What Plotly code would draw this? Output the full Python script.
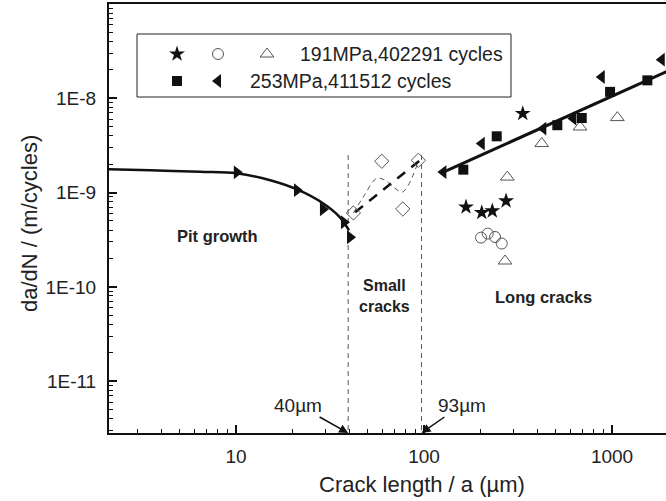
import plotly.graph_objects as go
import math

# ---------------- data ----------------
# Pit growth: fitted curve and markers
pit_curve_x = [2.11, 3.49, 6.43, 10.1, 15.2, 21.1, 29.0, 35.7, 39.9]
pit_curve_y = [1.77e-9, 1.72e-9, 1.66e-9, 1.60e-9, 1.35e-9, 1.08e-9, 7.7e-10, 5.47e-10, 3.98e-10]
pit_pts_x = [10.1, 21.1, 29.0, 37.5, 40.4]
pit_pts_y = [1.64e-9, 1.06e-9, 6.65e-10, 4.84e-10, 3.36e-10]

# Small cracks
small_x = [42.1, 59.6, 77.1, 93.3]
small_y = [6.08e-10, 2.15e-9, 6.70e-10, 2.20e-9]
small_interp_x = [42.1, 47.4, 56.2, 62.0, 70.1, 76.4, 82.3, 93.0]
small_interp_y = [6.08e-10, 8.91e-10, 1.42e-9, 1.35e-9, 1.11e-9, 1.01e-9, 1.19e-9, 2.10e-9]
small_fit_x = [43.0, 95.3]
small_fit_y = [6.18e-10, 2.2e-9]

# Long cracks fit
long_fit_x = [126.7, 2000]
long_fit_y = [1.65e-9, 1.96e-8]

# 191 MPa, 402291 cycles
s191_star_x = [167.2, 202.8, 230.8, 273.1, 335]
s191_star_y = [7.03e-10, 6.14e-10, 6.38e-10, 8.15e-10, 6.89e-9]
s191_circ_x = [201, 218.2, 238.6, 259]
s191_circ_y = [3.33e-10, 3.67e-10, 3.38e-10, 2.88e-10]
s191_tri_x = [277.3, 269.7, 422.7, 675.6, 1067]
s191_tri_y = [1.46e-9, 1.88e-10, 3.31e-9, 4.96e-9, 6.24e-9]

# 253 MPa, 411512 cycles
s253_sq_x = [161.8, 243.6, 511.6, 690, 976, 1541]
s253_sq_y = [1.75e-9, 3.95e-9, 5.18e-9, 6.18e-9, 1.17e-8, 1.55e-8]
s253_tri_x = [126.7, 202.8, 431, 622.5, 881.6, 1838]
s253_tri_y = [1.65e-9, 3.31e-9, 4.77e-9, 6.09e-9, 1.68e-8, 2.57e-8]

# Region boundaries (crack length, um)
boundary_x = [39.5, 97.0]
boundary_labels = ["40\u00b5m", "93\u00b5m"]
boundary_top = 2.5e-9

x_ticks = [10, 100, 1000]
x_ticklabels = ["10", "100", "1000"]
y_ticks = [1e-11, 1e-10, 1e-9, 1e-8]
y_ticklabels = ["1E-11", "1E-10", "1E-9", "1E-8"]

legend_row1 = "191MPa,402291 cycles"
legend_row2 = "253MPa,411512 cycles"
x_title = "Crack length / a (\u00b5m)"
y_title = "da/dN / (m/cycles)"

# ---------------- figure ----------------
FONT = "Liberation Sans, Arial, sans-serif"
BLACK = "#111111"
GRAY = "#555555"
TXT = "#222222"

fig = go.Figure()

# boundaries
for bx in boundary_x:
    fig.add_trace(go.Scatter(x=[bx, bx], y=[boundary_top, 1e-12], mode="lines",
                             line=dict(color=GRAY, width=1, dash="5px,4px"),
                             showlegend=False, hoverinfo="skip"))

# pit growth
fig.add_trace(go.Scatter(x=pit_curve_x, y=pit_curve_y, mode="lines",
                         line=dict(color=BLACK, width=2.5, shape="spline"),
                         showlegend=False))
fig.add_trace(go.Scatter(x=pit_pts_x, y=pit_pts_y, mode="markers",
                         marker=dict(symbol="triangle-right", size=12, color=BLACK),
                         showlegend=False))

# small cracks
fig.add_trace(go.Scatter(x=small_interp_x, y=small_interp_y, mode="lines",
                         line=dict(color=GRAY, width=1, dash="5px,4px", shape="spline"),
                         showlegend=False))
fig.add_trace(go.Scatter(x=small_fit_x, y=small_fit_y, mode="lines",
                         line=dict(color=BLACK, width=2.5, dash="10px,8px"),
                         showlegend=False))
fig.add_trace(go.Scatter(x=small_x, y=small_y, mode="markers",
                         marker=dict(symbol="diamond-open", size=11, color=GRAY,
                                     line=dict(width=1)),
                         showlegend=False))

# long cracks fit
fig.add_trace(go.Scatter(x=long_fit_x, y=long_fit_y, mode="lines",
                         line=dict(color=BLACK, width=3), showlegend=False))

# 191 MPa
fig.add_trace(go.Scatter(x=s191_star_x, y=s191_star_y, mode="markers",
                         marker=dict(symbol="star", size=12, color=BLACK),
                         showlegend=False))
fig.add_trace(go.Scatter(x=s191_circ_x, y=s191_circ_y, mode="markers",
                         marker=dict(symbol="circle-open", size=11, color=GRAY,
                                     line=dict(width=1)),
                         showlegend=False))
fig.add_trace(go.Scatter(x=s191_tri_x, y=s191_tri_y, mode="markers",
                         marker=dict(symbol="triangle-up-open", size=12, color=GRAY,
                                     line=dict(width=1)),
                         showlegend=False))

# 253 MPa
fig.add_trace(go.Scatter(x=s253_sq_x, y=s253_sq_y, mode="markers",
                         marker=dict(symbol="square", size=10, color=BLACK),
                         showlegend=False))
fig.add_trace(go.Scatter(x=s253_tri_x, y=s253_tri_y, mode="markers",
                         marker=dict(symbol="triangle-left", size=12, color=BLACK),
                         showlegend=False))

# legend glyphs on an overlay unit axis
leg_y1, leg_y2 = 0.8834, 0.8205
fig.add_trace(go.Scatter(x=[0.1221], y=[leg_y1], xaxis="x2", yaxis="y2", mode="markers",
                         marker=dict(symbol="star", size=12, color=BLACK), showlegend=False))
fig.add_trace(go.Scatter(x=[0.1957], y=[leg_y1], xaxis="x2", yaxis="y2", mode="markers",
                         marker=dict(symbol="circle-open", size=11, color=GRAY, line=dict(width=1)),
                         showlegend=False))
fig.add_trace(go.Scatter(x=[0.2837], y=[leg_y1], xaxis="x2", yaxis="y2", mode="markers",
                         marker=dict(symbol="triangle-up-open", size=12, color=GRAY, line=dict(width=1)),
                         showlegend=False))
fig.add_trace(go.Scatter(x=[0.1221], y=[leg_y2], xaxis="x2", yaxis="y2", mode="markers",
                         marker=dict(symbol="square", size=10, color=BLACK), showlegend=False))
fig.add_trace(go.Scatter(x=[0.1957], y=[leg_y2], xaxis="x2", yaxis="y2", mode="markers",
                         marker=dict(symbol="triangle-left", size=12, color=BLACK), showlegend=False))

annotations = [
    dict(xref="x2", yref="y2", x=0.3393, y=leg_y1, text=legend_row1, showarrow=False,
         xanchor="left", yanchor="middle", font=dict(size=19.5, color=TXT)),
    dict(xref="x2", yref="y2", x=0.2496, y=leg_y2, text=legend_row2, showarrow=False,
         xanchor="left", yanchor="middle", font=dict(size=19.5, color=TXT)),
    dict(xref="x", yref="y", x=math.log10(8.0), y=-9.463, text="<b>Pit growth</b>",
         showarrow=False, font=dict(size=16.5, color=TXT)),
    dict(xref="x", yref="y", x=math.log10(62.0), y=-10.1, text="<b>Small</b><br><b>cracks</b>",
         showarrow=False, font=dict(size=16, color=TXT)),
    dict(xref="x", yref="y", x=math.log10(430), y=-10.11, text="<b>Long cracks</b>",
         showarrow=False, font=dict(size=16.5, color=TXT)),
    # axis titles
    dict(xref="paper", yref="paper", x=(422 - 109) / 557, y=(433 - 485) / 429, text=x_title,
         showarrow=False, xanchor="center", yanchor="middle", font=dict(size=22, color=TXT)),
    dict(xref="paper", yref="paper", x=(30 - 109) / 557, y=(433 - 224) / 429, text=y_title,
         showarrow=False, xanchor="center", yanchor="middle", textangle=-90,
         font=dict(size=22, color=TXT)),
]
offsets = [(-50, -28), (40, -28)]
for bx, lab, (ax, ay) in zip(boundary_x, boundary_labels, offsets):
    annotations.append(dict(xref="x", yref="paper", x=math.log10(bx), y=0, text=lab,
                            showarrow=True, ax=ax, ay=ay, arrowhead=2, arrowsize=1.2,
                            arrowwidth=1.5, arrowcolor=BLACK,
                            font=dict(size=19, color=TXT)))

minor_x = [m * 10 ** d for d in range(0, 4) for m in range(2, 10)]
minor_y = [m * 10 ** d for d in range(-12, -7) for m in range(2, 10)]

fig.update_layout(
    width=666, height=501,
    margin=dict(l=109, r=0, t=4, b=68, autoexpand=False),
    paper_bgcolor="white", plot_bgcolor="white",
    font=dict(family=FONT, color=TXT),
    showlegend=False,
    xaxis=dict(type="log", range=[0.3245, 3.287], tickvals=x_ticks, ticktext=x_ticklabels,
               ticks="inside", ticklen=8, tickwidth=1.5, tickcolor=BLACK,
               showline=True, linecolor=BLACK, linewidth=2, mirror=True,
               showgrid=False, zeroline=False, ticklabelstandoff=5, automargin=False,
               tickfont=dict(size=19, color=TXT),
               minor=dict(tickvals=minor_x, ticks="inside", ticklen=4, tickwidth=1.2,
                          tickcolor=BLACK, showgrid=False)),
    yaxis=dict(type="log", range=[-11.55, -7.0], tickvals=y_ticks, ticktext=y_ticklabels,
               ticks="inside", ticklen=8, tickwidth=1.5, tickcolor=BLACK,
               showline=True, linecolor=BLACK, linewidth=2, mirror=False,
               showgrid=False, zeroline=False, ticklabelstandoff=7, automargin=False,
               tickfont=dict(size=19, color=TXT),
               minor=dict(tickvals=minor_y, ticks="inside", ticklen=4, tickwidth=1.2,
                          tickcolor=BLACK, showgrid=False)),
    xaxis2=dict(range=[0, 1], overlaying="x", visible=False, fixedrange=True),
    yaxis2=dict(range=[0, 1], overlaying="y", visible=False, fixedrange=True),
    shapes=[dict(type="rect", xref="paper", yref="paper", x0=0.0503, x1=0.7217,
                 y0=0.7832, y1=0.9301, line=dict(color=TXT, width=1), layer="below")],
    annotations=annotations,
)

fig.write_html(
    "out.html",
    config={"displayModeBar": False},
    post_script="document.body.style.margin='0';document.body.style.padding='0';"
                "document.body.style.overflow='hidden';",
)
